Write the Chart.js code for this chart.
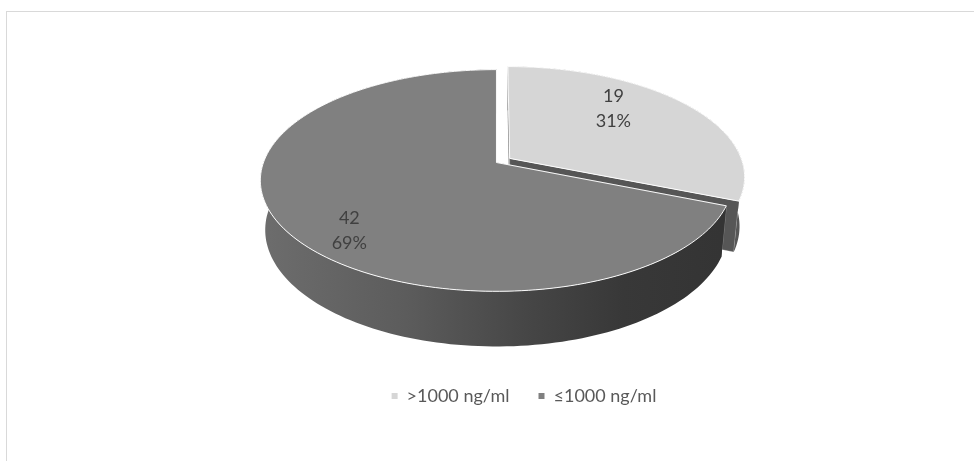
<!DOCTYPE html>
<html>
<head>
<meta charset="utf-8">
<script src="https://cdn.jsdelivr.net/npm/chart.js@4.4.1/dist/chart.umd.min.js"></script>
<style>
  html, body { margin: 0; padding: 0; background: #ffffff; overflow: hidden; }
  #wrap { position: relative; width: 974px; height: 461px; }
  #frame { position: absolute; left: 6px; top: 11px; width: 1000px; height: 500px;
           border: 1px solid #d9d9d9; box-sizing: border-box; }
  #chart { position: absolute; left: 0; top: 0; }
</style>
</head>
<body>
<div id="wrap">
  <div id="frame"></div>
  <canvas id="chart" width="974" height="461"></canvas>
</div>
<script>
// Patients by ferritin level
const categories = ['>1000 ng/ml', '≤1000 ng/ml'];
const patientCounts = [19, 42];

const sliceColors = ['#d6d6d6', '#808080'];

// Shading of the side walls from left (0) to right (1) across the pie
const sideShade = [[0, 0.85], [0.3, 0.72], [0.55, 0.55], [0.75, 0.44], [1, 0.40]];

function hexToRgb(hex) {
  const v = parseInt(hex.slice(1), 16);
  return [(v >> 16) & 255, (v >> 8) & 255, v & 255];
}
function shade(hex, f) {
  const [r, g, b] = hexToRgb(hex);
  return 'rgb(' + Math.round(r * f) + ',' + Math.round(g * f) + ',' + Math.round(b * f) + ')';
}

// Draws the pie as an extruded disc seen in perspective, using the
// angles and radius that Chart.js computed for each arc.
const pie3d = {
  id: 'pie3d',
  beforeDatasetsDraw(chart, args, opts) {
    const meta = chart.getDatasetMeta(0);
    const arcs = meta.data;
    if (!arcs.length) return false;
    const ctx = chart.ctx;
    const el = opts.elevation * Math.PI / 180;
    const ce = Math.cos(el), se = Math.sin(el);
    const D = opts.distance, H = opts.depth;
    const r = arcs[0].outerRadius;
    const colors = chart.data.datasets[0].backgroundColor;

    // unit-radius world coords: X right, Y up, Z toward the viewer
    const proj = (X, Y, Z) => {
      const k = D / (D - Z * ce - Y * se);
      return [X * k, -(Y * ce - Z * se) * k];
    };

    const slices = arcs.map((arc, i) => {
      const a0 = arc.startAngle, a1 = arc.endAngle, h = (a0 + a1) / 2;
      const e = (arc.options.offset || 0) / r;
      const ex = Math.cos(h) * e, ez = Math.sin(h) * e;
      const n = Math.max(8, Math.ceil((a1 - a0) / (Math.PI / 120)));
      const rim = [];
      for (let j = 0; j <= n; j++) {
        const a = a0 + (a1 - a0) * j / n;
        rim.push([ex + Math.cos(a), ez + Math.sin(a)]);
      }
      return { i, a0, a1, h, ex, ez, rim, color: colors[i] };
    });

    // fit the projected solid inside the chart area
    let minX = Infinity, maxX = -Infinity, minY = Infinity, maxY = -Infinity;
    slices.forEach(s => {
      [[s.ex, s.ez]].concat(s.rim).forEach(([x, z]) => {
        [0, -H].forEach(y => {
          const p = proj(x, y, z);
          minX = Math.min(minX, p[0]); maxX = Math.max(maxX, p[0]);
          minY = Math.min(minY, p[1]); maxY = Math.max(maxY, p[1]);
        });
      });
    });
    const ox = arcs[0].x + opts.shiftX - r * (minX + maxX) / 2;
    const oy = arcs[0].y - r * (minY + maxY) / 2;
    const S = (x, y, z) => { const p = proj(x, y, z); return [ox + r * p[0], oy + r * p[1]]; };
    const left = ox + r * minX, right = ox + r * maxX;

    const path = pts => {
      ctx.beginPath();
      ctx.moveTo(pts[0][0], pts[0][1]);
      for (let k = 1; k < pts.length; k++) ctx.lineTo(pts[k][0], pts[k][1]);
      ctx.closePath();
    };

    ctx.save();
    ctx.lineJoin = 'round';
    const order = slices.slice().sort((a, b) => Math.sin(a.h) - Math.sin(b.h));

    // side walls, far slices first
    order.forEach(s => {
      [s.a0, s.a1].forEach(a => {
        const rx = s.ex + Math.cos(a), rz = s.ez + Math.sin(a);
        path([S(s.ex, 0, s.ez), S(rx, 0, rz), S(rx, -H, rz), S(s.ex, -H, s.ez)]);
        ctx.fillStyle = shade(s.color, opts.radialShade);
        ctx.fill();
        ctx.strokeStyle = 'rgba(255,255,255,0.35)';
        ctx.lineWidth = 0.8;
        ctx.stroke();
      });
      const top = s.rim.map(([x, z]) => S(x, 0, z));
      const bot = s.rim.map(([x, z]) => S(x, -H, z)).reverse();
      path(top.concat(bot));
      const g = ctx.createLinearGradient(left, 0, right, 0);
      sideShade.forEach(([t, f]) => g.addColorStop(t, shade(s.color, f)));
      ctx.fillStyle = g;
      ctx.fill();
    });

    // top faces
    order.forEach(s => {
      path([S(s.ex, 0, s.ez)].concat(s.rim.map(([x, z]) => S(x, 0, z))));
      ctx.fillStyle = s.color;
      ctx.fill();
      ctx.strokeStyle = 'rgba(255,255,255,0.95)';
      ctx.lineWidth = 1;
      ctx.stroke();
    });

    // value and percentage labels
    const total = patientCounts.reduce((a, b) => a + b, 0);
    ctx.fillStyle = opts.labelColor;
    ctx.font = opts.labelFont;
    ctx.textAlign = 'center';
    ctx.textBaseline = 'middle';
    slices.forEach(s => {
      const al = s.h + opts.labelAngle * Math.PI / 180;
      const c0 = S(0, 0, 0), c1 = S(Math.cos(al), 0, Math.sin(al));
      const lx = c0[0] + opts.labelRadius * (c1[0] - c0[0]);
      const ly = c0[1] + opts.labelRadius * (c1[1] - c0[1]);
      const v = patientCounts[s.i];
      ctx.fillText(String(v), lx, ly - opts.labelLine / 2);
      ctx.fillText(Math.round(v / total * 100) + '%', lx, ly + opts.labelLine / 2);
    });
    ctx.restore();
    return false;
  }
};

new Chart(document.getElementById('chart'), {
  type: 'pie',
  data: {
    labels: categories,
    datasets: [{
      data: patientCounts,
      backgroundColor: sliceColors,
      borderWidth: 0,
      offset: [16, 0],
      radius: 233
    }]
  },
  options: {
    responsive: false,
    animation: false,
    events: [],
    layout: { padding: { left: 74, right: 0, top: 55, bottom: 46 } },
    plugins: {
      tooltip: { enabled: false },
      legend: {
        position: 'bottom',
        labels: {
          boxWidth: 6,
          boxHeight: 6,
          padding: 29,
          color: '#595959',
          font: { family: 'Lato', size: 18 }
        }
      },
      pie3d: {
        elevation: 27.6,
        distance: 5.47,
        depth: 0.242,
        shiftX: -21.5,
        radialShade: 0.40,
        labelAngle: -11,
        labelRadius: 0.79,
        labelLine: 25,
        labelColor: '#404040',
        labelFont: '18px Lato'
      }
    }
  },
  plugins: [pie3d]
});
</script>
</body>
</html>
